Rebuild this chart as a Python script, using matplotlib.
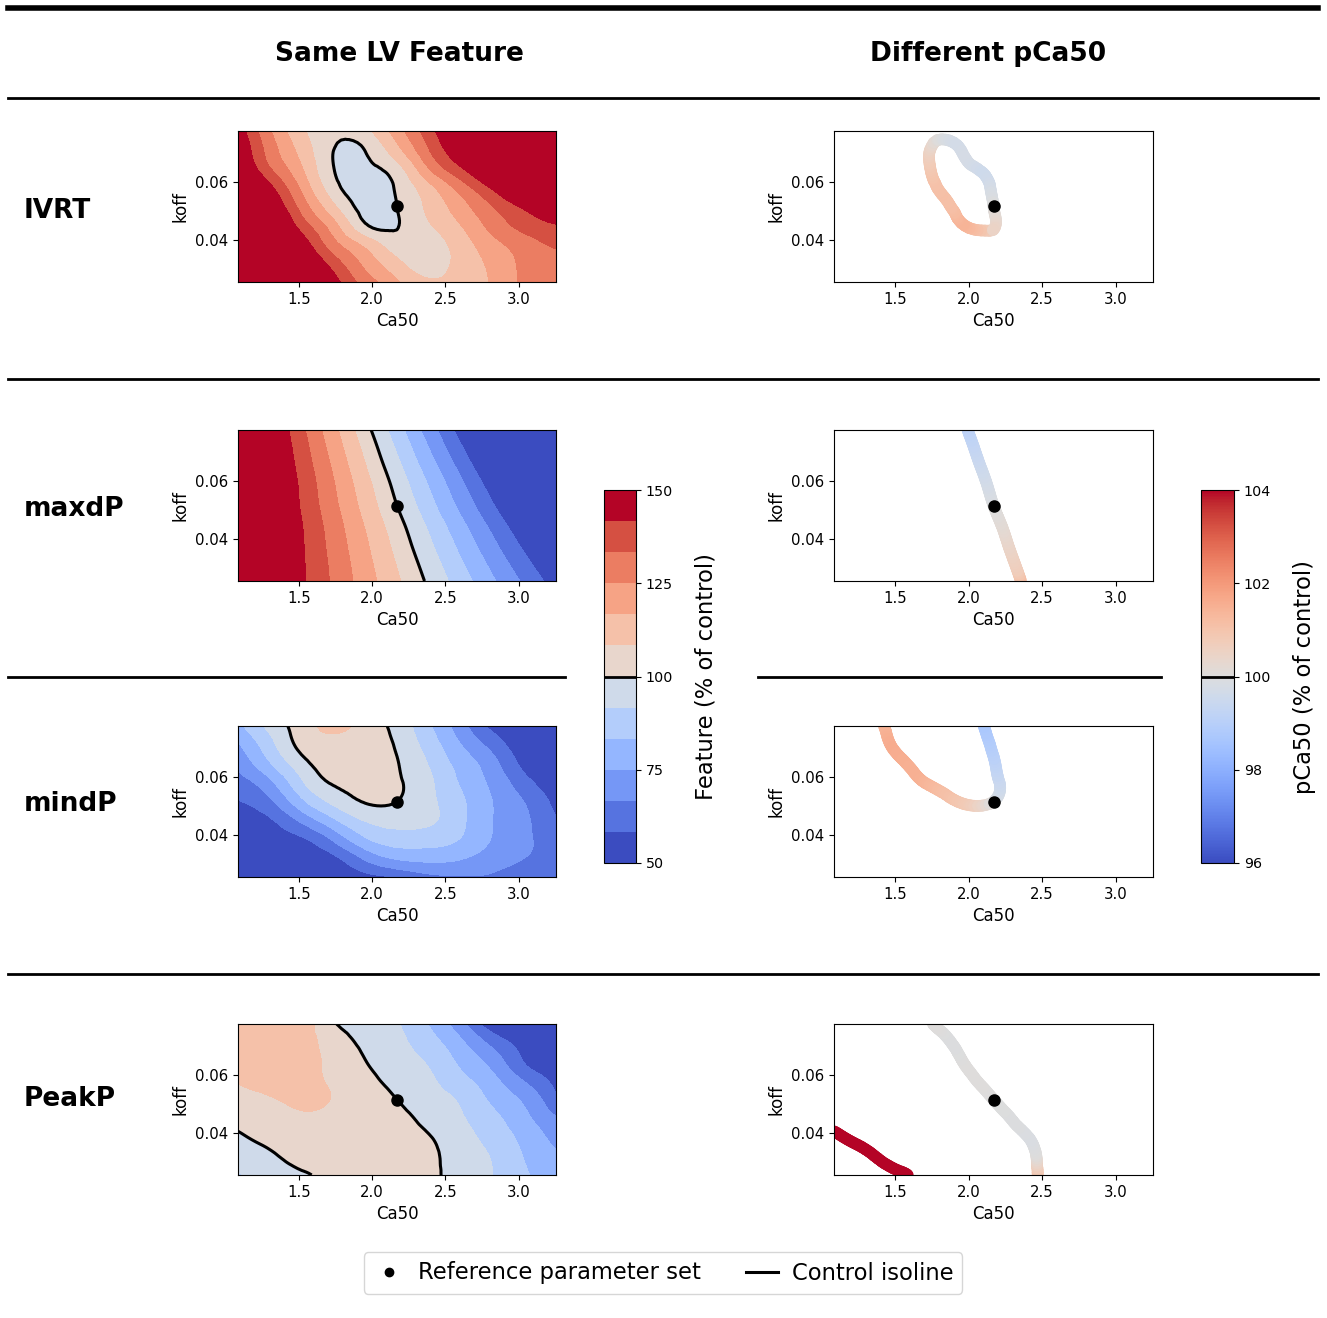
import numpy as np
import matplotlib
matplotlib.use("Agg")
import matplotlib.pyplot as plt
import matplotlib.tri as mtri
from matplotlib import cm
from matplotlib.colors import BoundaryNorm, Normalize
from matplotlib.collections import LineCollection
from matplotlib.lines import Line2D
from matplotlib.path import Path

W, H, DPI = 1327, 1318, 100

# reference parameter set
CA50_REF = 2.17
KOFF_REF = 0.0516

# sampled parameter grid, as fraction of the reference values
ca50_frac = np.linspace(0.5, 1.5, 11)
koff_frac = np.linspace(0.5, 1.5, 9)

feature_names = ["IVRT", "maxdP", "mindP", "PeakP"]

# LV features in % of control: one row per koff (low -> high),
# one column per Ca50 (low -> high)
ivrt = np.array([
    [195, 178, 162, 145.5, 129.6, 117.6, 109.5, 110.5, 117.9, 126.5, 131.5],
    [190, 172, 155, 137.7, 122.6, 110.4, 104.5, 111.2, 118.6, 127, 131],
    [185, 165, 147, 128, 114.3, 103.5, 104, 112.3, 122, 129.7, 134.5],
    [180, 160, 137.9, 119.8, 101, 99.5, 107.5, 116.5, 128, 136, 141],
    [175, 152, 130, 110, 97, 100, 110.2, 121.3, 133.2, 143.5, 156],
    [167, 144, 123.2, 103, 96, 101, 114, 128.5, 143, 158, 172],
    [156, 134, 117.4, 100.2, 98, 105, 124.7, 140.5, 155, 168, 180],
    [151, 129.5, 113.5, 100.1, 100.2, 113.8, 133, 149, 163, 177, 190],
    [147, 125.8, 109.8, 102, 106, 120.9, 138, 155, 170, 185, 200],
])

maxdp = np.array([
    [165.2, 154.1, 143.0, 131.9, 120.7, 109.6, 98.5, 87.4, 76.2, 65.1, 54.0],
    [166.4, 154.7, 142.9, 131.2, 119.4, 107.7, 95.9, 84.2, 72.4, 60.7, 49.0],
    [167.3, 155.0, 142.6, 130.2, 117.9, 105.5, 93.1, 80.8, 68.4, 56.0, 43.7],
    [168.0, 155.0, 142.0, 129.0, 116.0, 103.1, 90.1, 77.1, 64.1, 51.1, 38.2],
    [168.0, 154.4, 140.8, 127.2, 113.6, 100.0, 86.4, 72.8, 59.2, 45.6, 32.0],
    [168.5, 154.3, 140.1, 125.8, 111.6, 97.4, 83.2, 69.0, 54.7, 40.5, 26.3],
    [168.4, 153.5, 138.7, 123.9, 109.0, 94.2, 79.3, 64.5, 49.6, 34.8, 20.0],
    [168.0, 152.5, 137.1, 121.6, 106.2, 90.7, 75.2, 59.8, 44.3, 28.8, 13.4],
    [167.3, 151.2, 135.2, 119.1, 103.0, 87.0, 70.9, 54.8, 38.7, 22.7, 6.6],
])

mindp = np.array([
    [43, 46, 47.5, 51, 55.5, 59.0, 64.5, 65.8, 65.5, 62, 61],
    [46, 49.5, 52, 56.5, 68.2, 76.1, 77.7, 75.8, 70.8, 66.7, 63.5],
    [50, 53.5, 57.2, 68.0, 82.1, 87.6, 87.0, 83.0, 74.5, 68.2, 62],
    [54, 57.3, 68.5, 81.7, 92.2, 94.7, 93, 85.3, 75.1, 68.1, 59],
    [58, 65.0, 81.2, 93.9, 100.5, 100.0, 93.8, 84.9, 75, 66.5, 55.5],
    [63, 72.9, 90.3, 100.8, 102.5, 100.8, 93.5, 82.5, 73, 61.5, 52],
    [68.5, 82.5, 97.0, 104.5, 104.5, 100.4, 91.2, 80.1, 69.7, 55.7, 49],
    [74, 88.7, 102.5, 106.5, 105.5, 99.0, 88.0, 75.3, 63.5, 52, 46],
    [81, 94.2, 104, 110.5, 104.9, 97.3, 84.5, 70.2, 55.7, 50, 44],
])

peakp = np.array([
    [91.0, 95.5, 99.2, 102, 104, 103.5, 101.8, 97.0, 91.8, 84.3, 80],
    [95.3, 98.8, 102.3, 103, 104.5, 103.5, 101.5, 96.5, 91.0, 82.9, 76.5],
    [99.0, 102.2, 104.8, 105.5, 104.5, 103, 100.4, 94.9, 88.6, 80.7, 72.5],
    [102.3, 105, 107.3, 106.5, 104.0, 102, 97.9, 92.6, 85.7, 77.2, 67.5],
    [106, 107.8, 109.5, 108, 104.0, 100, 95.5, 90.5, 81.7, 73.4, 60],
    [108.7, 110.3, 110.2, 107.2, 102.4, 97.8, 93.3, 86.0, 77.5, 66.3, 55.5],
    [110.5, 111.5, 111, 106.0, 100.2, 95.7, 90.7, 81.7, 71.8, 58.0, 50],
    [111.8, 112.5, 111.5, 104.4, 98.6, 94.0, 86.9, 76.8, 64.3, 54, 45],
    [112.5, 113, 112, 101, 97.0, 92.3, 83.0, 69.7, 52, 45, 40],
])

feature_grids = [ivrt, maxdp, mindp, peakp]

# pCa50 (% of control) on a coarse parameter grid
pca50_frac = np.array([0.5, 1.0, 1.5])
pca50 = np.array([
    [107.0, 101.55, 100.0],
    [104.25, 100.0, 96.0],
    [102.7, 98.45, 95.5],
])


def grid_tri(xs, ys):
    X, Y = np.meshgrid(xs, ys)
    nx, ny = len(xs), len(ys)
    tris = []
    for j in range(ny - 1):
        for i in range(nx - 1):
            a = j * nx + i
            tris.append([a, a + 1, a + nx + 1])
            tris.append([a, a + nx + 1, a + nx])
    return mtri.Triangulation(X.ravel(), Y.ravel(), np.array(tris))


def split_path(path):
    # break a contour path into its separate polylines
    verts, codes = path.vertices, path.codes
    if codes is None:
        return [verts]
    parts, cur = [], []
    for v, c in zip(verts, codes):
        if c == Path.MOVETO:
            if len(cur) > 1:
                parts.append(np.array(cur))
            cur = [v]
        elif c == Path.CLOSEPOLY:
            cur.append(cur[0])
        else:
            cur.append(v)
    if len(cur) > 1:
        parts.append(np.array(cur))
    return parts


fig = plt.figure(figsize=(W / DPI, H / DPI), dpi=DPI)


def px_axes(x0, y0, x1, y1):
    return fig.add_axes([x0 / W, 1 - y1 / H, (x1 - x0) / W, (y1 - y0) / H])


def hline(y, x0, x1, lw):
    fig.add_artist(Line2D([x0 / W, x1 / W], [1 - y / H] * 2, color="k",
                          lw=lw, transform=fig.transFigure))


cmap = plt.get_cmap("coolwarm")
feat_levels = np.linspace(50, 150, 13)
feat_norm = BoundaryNorm(feat_levels, cmap.N)
pca_norm = Normalize(96, 104)

xs = CA50_REF * ca50_frac
ys = KOFF_REF * koff_frac
tri = grid_tri(xs, ys)
refiner = mtri.UniformTriRefiner(tri)
tri_p = grid_tri(CA50_REF * pca50_frac, KOFF_REF * pca50_frac)
pca_interp = mtri.LinearTriInterpolator(tri_p, pca50.ravel())

xlim = (xs[0], xs[-1])
ylim = (ys[0], ys[-1])

row_tops = [131, 430, 726, 1024]
label_y = [211, 509, 804, 1099]


def style(ax):
    ax.set_xlim(*xlim)
    ax.set_ylim(*ylim)
    ax.set_xticks([1.5, 2.0, 2.5, 3.0])
    ax.set_yticks([0.04, 0.06])
    ax.tick_params(labelsize=10.7)
    ax.set_xlabel("Ca50", fontsize=12)
    ax.set_ylabel("koff", fontsize=12)


for k, (name, grid) in enumerate(zip(feature_names, feature_grids)):
    top = row_tops[k]
    axL = px_axes(238, top, 556, top + 151)
    axR = px_axes(834, top, 1153, top + 151)

    tri_f, z_f = refiner.refine_field(grid.ravel().astype(float), subdiv=3)
    axL.tricontourf(tri_f, z_f, levels=feat_levels, cmap=cmap,
                    norm=feat_norm, extend="both")
    iso = axL.tricontour(tri_f, z_f, levels=[100], colors="k", linewidths=2.2)

    # control isoline, coloured by pCa50
    segs, vals = [], []
    for path in iso.get_paths():
        for poly in split_path(path):
            px = np.clip(poly[:, 0], *xlim)
            py = np.clip(poly[:, 1], *ylim)
            p = np.ma.filled(pca_interp(px, py), 100.0)
            segs.extend(np.stack([poly[:-1], poly[1:]], axis=1))
            vals.extend(0.5 * (p[:-1] + p[1:]))
    lc = LineCollection(segs, cmap=cmap, norm=pca_norm, linewidths=8.4,
                        capstyle="round", joinstyle="round")
    lc.set_array(np.array(vals))
    axR.add_collection(lc)

    for ax in (axL, axR):
        ax.plot(CA50_REF, KOFF_REF, "o", color="k", ms=8, zorder=5)
        style(ax)

    fig.text(24 / W, 1 - label_y[k] / H, name, fontsize=19,
             fontweight="bold", ha="left", va="center")

# colour bars
cax1 = px_axes(604, 490, 636, 863)
cb1 = fig.colorbar(cm.ScalarMappable(norm=feat_norm, cmap=cmap), cax=cax1,
                   ticks=[50, 75, 100, 125, 150])
cb1.minorticks_off()
cb1.ax.axhline(100, color="k", lw=2)
cb1.ax.tick_params(labelsize=10.3)

cax2 = px_axes(1201, 490, 1234, 863)
cb2 = fig.colorbar(cm.ScalarMappable(norm=pca_norm, cmap=cmap), cax=cax2,
                   ticks=[96, 98, 100, 102, 104])
cb2.minorticks_off()
cb2.ax.axhline(100, color="k", lw=2)
cb2.ax.tick_params(labelsize=10.3)

fig.text(706 / W, 1 - 677 / H, "Feature (% of control)", fontsize=16.3,
         rotation=90, ha="center", va="center")
fig.text(1304 / W, 1 - 677 / H, "pCa50 (% of control)", fontsize=16.3,
         rotation=90, ha="center", va="center")

# column headers and separators
fig.text(399.5 / W, 1 - 54 / H, "Same LV Feature", fontsize=19,
         fontweight="bold", ha="center", va="center")
fig.text(988 / W, 1 - 54 / H, "Different pCa50", fontsize=19,
         fontweight="bold", ha="center", va="center")

hline(8, 8, 1318, 4)
hline(98, 8, 1318, 2)
hline(379, 8, 1318, 2)
hline(677, 8, 565, 2)
hline(677, 758, 1161, 2)
hline(974, 8, 1318, 2)

handles = [
    Line2D([], [], marker="o", color="k", ls="none", ms=6),
    Line2D([], [], color="k", lw=2.2),
]
fig.legend(handles, ["Reference parameter set", "Control isoline"],
           loc="center", bbox_to_anchor=(663 / W, 1 - 1273 / H), ncol=2,
           fontsize=16.3, columnspacing=2.0, handlelength=1.4,
           handletextpad=0.6)

fig.savefig("out.png", dpi=DPI)
